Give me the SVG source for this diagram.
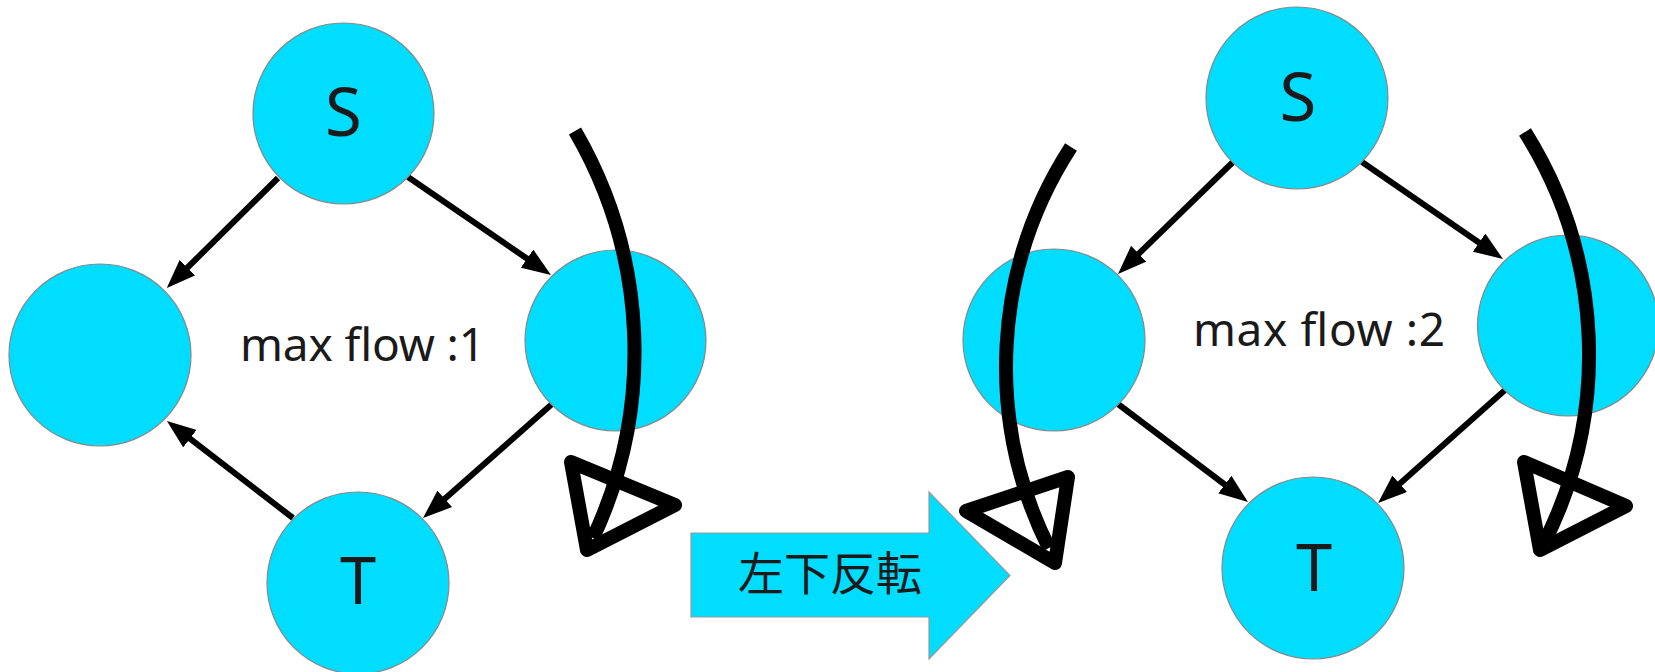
<svg xmlns="http://www.w3.org/2000/svg" width="1655" height="672" viewBox="0 0 1655 672">
<defs>
<style>
.node{fill:#00DDFF;stroke:#888888;stroke-width:1.2}
.lbl{font-family:"Noto Sans","Noto Sans CJK JP",sans-serif;fill:#1a1a1a;text-anchor:middle}
.edge{stroke:#000;stroke-width:6;fill:none}
.big{stroke:#000;stroke-width:14;fill:none}
.tri{stroke:#000;stroke-width:14;fill:none;stroke-linejoin:round}
.note{font-family:"Noto Sans","Noto Sans CJK JP",sans-serif;fill:#1a1a1a;font-size:46px}
</style>
<marker id="ah" viewBox="0 0 29 22" refX="9" refY="11" markerWidth="29" markerHeight="22" markerUnits="userSpaceOnUse" orient="auto">
<path d="M0,0 L29,11 L0,22 z" fill="#000"/>
</marker>
</defs>
<rect width="1655" height="672" fill="#fff"/>

<g id="connectors">
<line class="edge" x1="278" y1="178" x2="181" y2="274" marker-end="url(#ah)"/>
<line class="edge" x1="408" y1="177" x2="534.5" y2="263.7" marker-end="url(#ah)"/>
<line class="edge" x1="552" y1="404" x2="438" y2="504.8" marker-end="url(#ah)"/>
<line class="edge" x1="293" y1="518" x2="182.8" y2="433.2" marker-end="url(#ah)"/>
<line class="edge" x1="1233" y1="162" x2="1132.3" y2="260" marker-end="url(#ah)"/>
<line class="edge" x1="1362" y1="162" x2="1486.5" y2="247.7" marker-end="url(#ah)"/>
<line class="edge" x1="1118" y1="404" x2="1232" y2="490" marker-end="url(#ah)"/>
<line class="edge" x1="1505" y1="390" x2="1393" y2="489.7" marker-end="url(#ah)"/>
</g>

<g id="node-s1"><circle class="node" cx="343.5" cy="113.5" r="90.5"/><text class="lbl" x="343.5" y="136" font-size="67">S</text></g>
<g id="node-l1"><circle class="node" cx="100" cy="355" r="91"/></g>
<g id="node-r1"><circle class="node" cx="615.5" cy="340.5" r="90.5"/></g>
<g id="node-t1"><circle class="node" cx="358" cy="583" r="91"/><text class="lbl" x="358" y="604" font-size="65">T</text></g>

<g id="node-s2"><circle class="node" cx="1297" cy="98" r="91"/><text class="lbl" x="1298" y="121" font-size="67">S</text></g>
<g id="node-l2"><circle class="node" cx="1054" cy="340" r="91"/></g>
<g id="node-r2"><circle class="node" cx="1568" cy="325.5" r="90.5"/></g>
<g id="node-t2"><circle class="node" cx="1313" cy="568" r="91"/><text class="lbl" x="1314" y="591" font-size="65">T</text></g>

<g id="label-flow1"><text class="note" x="240" y="361" textLength="245" lengthAdjust="spacing">max flow :1</text></g>
<g id="label-flow2"><text class="note" x="1193" y="346" textLength="252" lengthAdjust="spacing">max flow :2</text></g>

<g id="rotate-1">
<path class="big" d="M575,131 A439,439 0 0 1 593,538"/>
<polygon class="tri" points="571,462 675,505 587,550"/>
</g>
<g id="rotate-2">
<path class="big" d="M1071,147 A404,404 0 0 0 1049,548"/>
<polygon class="tri" points="966,511 1068,477 1055,563"/>
</g>
<g id="rotate-3">
<path class="big" d="M1525,132 A418,418 0 0 1 1543,545"/>
<polygon class="tri" points="1524,462 1626,506 1540,550"/>
</g>

<g id="block-arrow">
<polygon points="691,533 929,533 929,492 1010,575.5 929,659 929,617 691,617" fill="#00DDFF" stroke="#999999" stroke-width="1.2"/>
<text x="738" y="590" font-family="'Noto Sans CJK JP',sans-serif" font-size="46" fill="#1a1a1a">左下反転</text>
</g>
</svg>
